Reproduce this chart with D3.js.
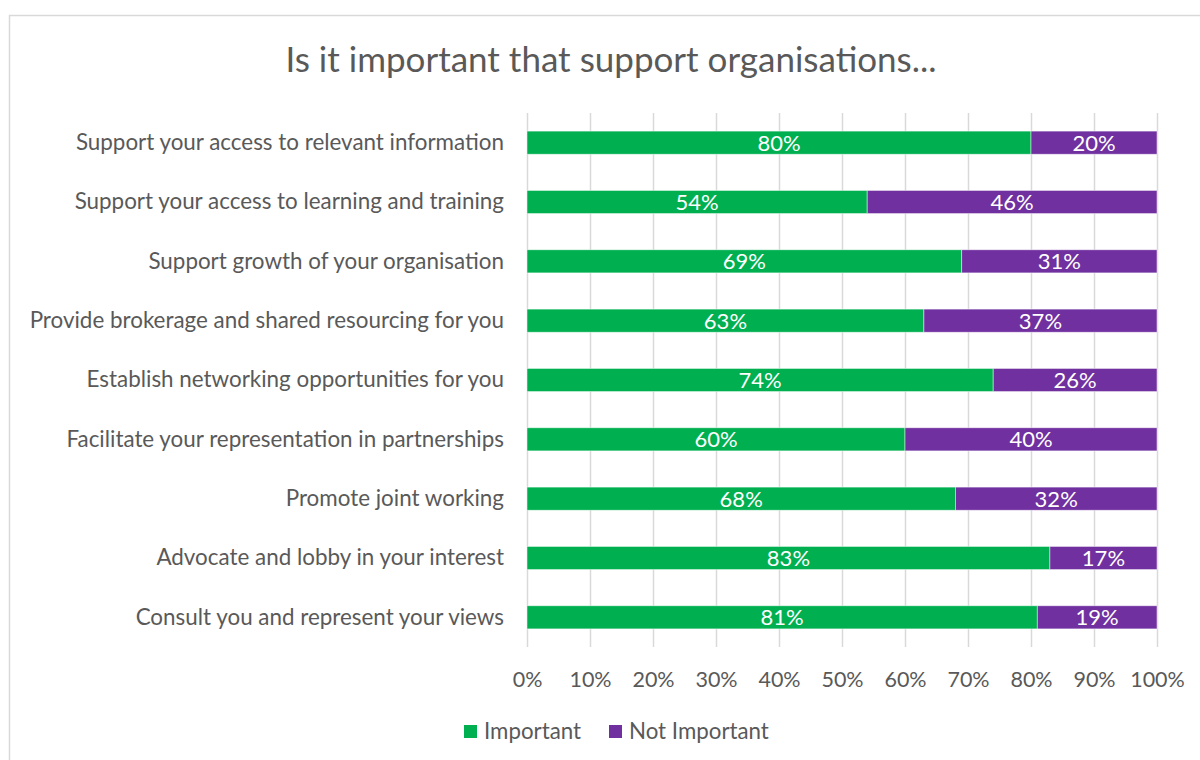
<!DOCTYPE html>
<html>
<head>
<meta charset="utf-8">
<script src="https://cdn.jsdelivr.net/npm/d3@7"></script>
<style>
  html, body { margin: 0; padding: 0; background: #fff; }
  svg { display: block; }
  text { font-family: Lato, "Open Sans", sans-serif; }
</style>
</head>
<body>
<svg id="chart" width="1200" height="760"></svg>
<script>
const categories = [
  "Support your access to relevant information",
  "Support your access to learning and training",
  "Support growth of your organisation",
  "Provide brokerage and shared resourcing for you",
  "Establish networking opportunities for you",
  "Facilitate your representation in partnerships",
  "Promote joint working",
  "Advocate and lobby in your interest",
  "Consult you and represent your views"
];
const important    = [80, 54, 69, 63, 74, 60, 68, 83, 81];
const notImportant = [20, 46, 31, 37, 26, 40, 32, 17, 19];
const seriesNames  = ["Important", "Not Important"];
const tickValues   = [0, 10, 20, 30, 40, 50, 60, 70, 80, 90, 100];
const titleText    = "Is it important that support organisations...";

const colors = { "Important": "#00b050", "Not Important": "#7030a0" };
const textGray = "#595959";

const svg = d3.select("#chart");

// chart frame
svg.append("rect")
  .attr("x", 9.5).attr("y", 15.5)
  .attr("width", 1200).attr("height", 760)
  .attr("fill", "#fff").attr("stroke", "#d9d9d9").attr("stroke-width", 1.5);

// title
svg.append("text")
  .attr("x", 611).attr("y", 72)
  .attr("text-anchor", "middle")
  .attr("font-size", 35)
  .attr("fill", textGray)
  .text(titleText);

const x = d3.scaleLinear().domain([0, 100]).range([527, 1157]);
const y = d3.scaleBand().domain(categories).range([113, 647])
  .paddingInner(0.61).paddingOuter(0.305);

// vertical gridlines
svg.append("g")
  .selectAll("line")
  .data(tickValues)
  .join("line")
  .attr("x1", d => x(d) + 0.5).attr("x2", d => x(d) + 0.5)
  .attr("y1", 113).attr("y2", 647)
  .attr("stroke", "#d9d9d9").attr("stroke-width", 1.5);

// x axis tick labels
const xAxis = d3.axisBottom(x).tickValues(tickValues)
  .tickFormat(d => d + "%").tickSize(0).tickPadding(0);
const xg = svg.append("g").attr("transform", "translate(0,679)").call(xAxis);
xg.select(".domain").remove();
xg.selectAll("text")
  .attr("font-size", 21.5)
  .attr("font-family", "Lato, 'Open Sans', sans-serif")
  .attr("fill", textGray)
  .attr("dy", "0.36em");

// category labels
const yAxis = d3.axisLeft(y).tickSize(0).tickPadding(0);
const yg = svg.append("g").attr("transform", "translate(504,0)").call(yAxis);
yg.select(".domain").remove();
yg.selectAll("text")
  .attr("font-size", 22.4)
  .attr("font-family", "Lato, 'Open Sans', sans-serif")
  .attr("fill", textGray);

// stacked data
const rows = categories.map((c, i) => ({
  category: c,
  "Important": important[i],
  "Not Important": notImportant[i]
}));
const stack = d3.stack().keys(seriesNames)(rows);

const layers = svg.append("g")
  .selectAll("g")
  .data(stack)
  .join("g")
  .attr("fill", d => colors[d.key]);

layers.selectAll("rect")
  .data(d => d)
  .join("rect")
  .attr("x", d => x(d[0]))
  .attr("y", d => y(d.data.category))
  .attr("width", d => x(d[1]) - x(d[0]))
  .attr("height", y.bandwidth())
  .attr("stroke", "#ffffff")
  .attr("stroke-opacity", 0.6)
  .attr("stroke-width", 0.8);

// value labels
layers.selectAll("text")
  .data(d => d.map(v => ({ v, key: d.key })))
  .join("text")
  .attr("x", d => (x(d.v[0]) + x(d.v[1])) / 2)
  .attr("y", d => y(d.v.data.category) + y.bandwidth() / 2)
  .attr("dy", "0.36em")
  .attr("text-anchor", "middle")
  .attr("font-size", 22)
  .attr("fill", "#ffffff")
  .text(d => d.v.data[d.key] + "%");

// legend
const legendItems = [
  { name: "Important", sx: 464, tx: 484 },
  { name: "Not Important", sx: 609, tx: 629 }
];
const lg = svg.append("g");
lg.selectAll("rect")
  .data(legendItems)
  .join("rect")
  .attr("x", d => d.sx).attr("y", 725)
  .attr("width", 13).attr("height", 13)
  .attr("fill", d => colors[d.name]);
lg.selectAll("text")
  .data(legendItems)
  .join("text")
  .attr("x", d => d.tx).attr("y", 731)
  .attr("dy", "0.36em")
  .attr("font-size", 22.3)
  .attr("fill", textGray)
  .text(d => d.name);
</script>
</body>
</html>
